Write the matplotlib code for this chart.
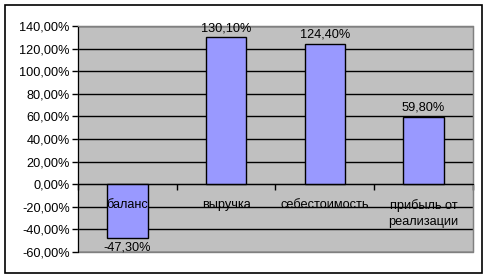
import matplotlib
matplotlib.use("Agg")
import matplotlib.pyplot as plt
from matplotlib.patches import Rectangle
import numpy as np

categories = ["баланс", "выручка", "себестоимость", "прибыль от\nреализации"]
values = [-47.3, 130.1, 124.4, 59.8]
yticks = [-60, -40, -20, 0, 20, 40, 60, 80, 100, 120, 140]

plt.rcParams['font.family'] = ['Liberation Sans', 'DejaVu Sans']
plt.rcParams['font.size'] = 9.2

fig = plt.figure(figsize=(4.89, 2.79), dpi=100)
fig.patch.set_facecolor('white')
# outer border
fig.patches.append(Rectangle((5/489, 1 - 273/279), 477/489, 268/279, transform=fig.transFigure,
                             fill=False, edgecolor='black', linewidth=1.2))

ax = fig.add_axes([78/489, 1 - 252/279, (473-78)/489, (252-26)/279])
ax.set_facecolor('#C0C0C0')
x = np.arange(len(categories))
ax.set_xlim(-0.5, len(categories) - 0.5)
ax.set_ylim(-60, 140)
ax.set_yticks(yticks)
ax.set_yticklabels([f"{t:.2f}%".replace('.', ',') for t in yticks])
ax.yaxis.grid(True, color='black', linewidth=1)
ax.set_axisbelow(True)
ax.tick_params(axis='y', direction='out', length=4, width=1, colors='black', pad=2)

bars = ax.bar(x, values, width=0.41, color='#9999FF', edgecolor='black', linewidth=1, zorder=3)

for xi, v in zip(x, values):
    lab = f"{v:.2f}%".replace('.', ',')
    if v >= 0:
        ax.annotate(lab, (xi, v), xytext=(0, 2), textcoords='offset points', ha='center', va='bottom')
    else:
        ax.annotate(lab, (xi, v), xytext=(0, -3), textcoords='offset points', ha='center', va='top')

for xi, c in zip(x, categories):
    ax.annotate(c, (xi, 0), xytext=(0, -10.5), textcoords='offset points', ha='center', va='top',
                linespacing=1.45, zorder=4)

# zero axis
ax.spines['bottom'].set_position(('data', 0))
ax.spines['bottom'].set_color('black')
ax.spines['bottom'].set_zorder(4)
ax.set_xticks(np.arange(-0.5, len(categories), 1.0))
ax.set_xticklabels([])
ax.tick_params(axis='x', direction='out', length=4, width=1, colors='black')
ax.spines['left'].set_color('black')
ax.spines['top'].set_color('#808080')
ax.spines['right'].set_color('#808080')
ax.add_patch(Rectangle((0, 0), 1, 1, transform=ax.transAxes, fill=False, edgecolor='#808080',
                       linewidth=1, zorder=1, clip_on=False))

fig.savefig('out.png', dpi=100)
